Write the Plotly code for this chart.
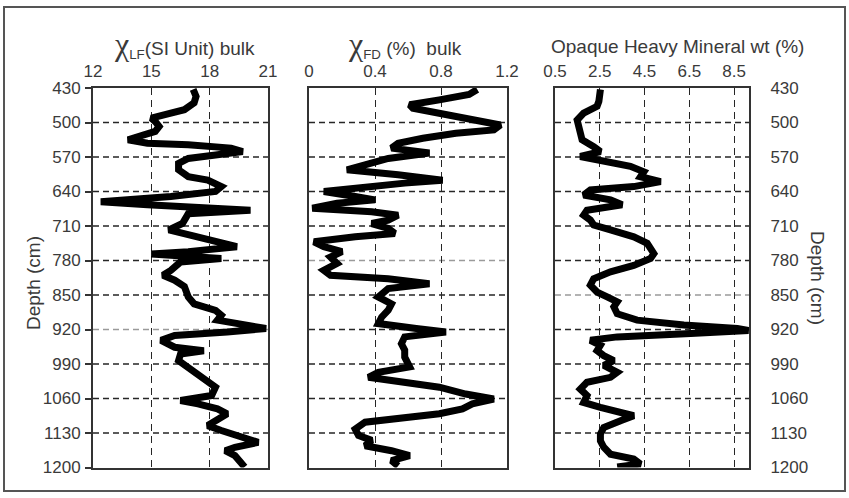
import plotly.graph_objects as go

# Depth profiles (cm) for the three downcore logs
depth_lf = [433, 447, 460, 474, 484, 491, 498, 508, 518, 528, 535, 542, 545, 552, 559, 566, 573, 583, 596, 610,
            617, 630, 640, 650, 661, 667, 671, 678, 685, 695, 705, 718, 728, 739, 752, 762, 767, 776, 783, 800,
            810, 820, 833, 854, 868, 881, 891, 901, 911, 918, 925, 932, 942, 956, 963, 970, 983, 997, 1010, 1024,
            1037, 1054, 1064, 1071, 1081, 1091, 1105, 1115, 1125, 1139, 1149, 1159, 1166, 1176, 1190, 1199]
chi_lf = [17.15, 17.3, 17.2, 16.7, 15.7, 15.0, 15.2, 15.4, 15.2, 14.3, 13.8, 14.8, 16.9, 19.1, 19.7, 18.3, 16.9, 16.4, 16.4, 16.9,
          17.9, 18.6, 18.3, 16.0, 12.4, 14.8, 16.9, 20.1, 16.9, 16.7, 16.6, 15.9, 16.9, 18.1, 19.4, 16.9, 15.0, 18.6, 16.5, 16.0,
          15.6, 16.2, 16.7, 16.9, 17.2, 18.3, 18.6, 18.4, 20.0, 20.9, 18.9, 16.2, 15.5, 16.2, 17.7, 16.5, 16.4, 16.9, 17.4, 17.9,
          18.3, 18.1, 16.5, 17.4, 18.4, 18.9, 18.3, 17.9, 18.6, 19.8, 20.5, 19.3, 18.8, 19.3, 19.6, 19.8]

depth_fd = [433, 443, 454, 464, 471, 481, 495, 505, 515, 522, 532, 542, 552, 562, 573, 586, 596, 606, 617, 623,
            634, 640, 650, 657, 664, 674, 681, 688, 698, 705, 715, 725, 732, 742, 752, 762, 773, 786, 800, 810,
            817, 827, 837, 854, 868, 881, 895, 908, 918, 925, 935, 949, 962, 976, 996, 1007, 1017, 1027, 1037, 1051,
            1061, 1071, 1081, 1091, 1098, 1108, 1122, 1135, 1145, 1156, 1166, 1176, 1186, 1197]
chi_fd = [1.02, 0.97, 0.79, 0.61, 0.63, 0.79, 1.04, 1.16, 1.12, 0.89, 0.69, 0.54, 0.50, 0.73, 0.48, 0.32, 0.23, 0.54, 0.81, 0.58,
          0.28, 0.09, 0.28, 0.40, 0.17, 0.02, 0.38, 0.54, 0.48, 0.38, 0.48, 0.52, 0.28, 0.03, 0.09, 0.20, 0.13, 0.17, 0.09, 0.13,
          0.48, 0.73, 0.48, 0.42, 0.50, 0.48, 0.44, 0.42, 0.65, 0.83, 0.58, 0.56, 0.58, 0.58, 0.61, 0.42, 0.36, 0.58, 0.79, 0.95,
          1.12, 0.99, 0.93, 0.79, 0.58, 0.34, 0.28, 0.30, 0.38, 0.34, 0.50, 0.61, 0.50, 0.54]

depth_ohm = [433, 447, 457, 467, 481, 495, 508, 522, 535, 549, 559, 569, 579, 589, 600, 610, 620, 630, 637, 647,
             657, 667, 678, 688, 698, 708, 718, 732, 745, 756, 766, 776, 790, 803, 817, 830, 844, 854, 864, 874,
             888, 901, 911, 918, 922, 928, 935, 942, 952, 963, 973, 983, 993, 1007, 1017, 1027, 1041, 1054, 1068, 1078,
             1088, 1095, 1105, 1119, 1132, 1146, 1159, 1173, 1183, 1193, 1199]
ohm_wt = [2.53, 2.53, 2.46, 2.38, 1.78, 1.49, 1.56, 1.63, 1.71, 2.23, 2.53, 1.63, 2.83, 3.87, 4.47, 4.32, 5.22, 4.02, 2.08, 1.78,
          2.98, 3.50, 1.93, 1.78, 2.08, 2.23, 2.98, 4.02, 4.62, 4.77, 4.92, 4.77, 4.02, 2.98, 2.23, 2.08, 2.38, 2.83, 3.28, 3.13,
          3.28, 4.17, 6.26, 8.65, 9.15, 6.56, 3.28, 2.08, 2.53, 2.38, 2.68, 3.13, 2.68, 3.28, 2.98, 1.93, 1.63, 1.93, 1.78, 2.53,
          3.28, 4.02, 3.43, 2.68, 2.53, 2.53, 2.68, 2.98, 4.02, 4.32, 3.28]

depth_ticks = [430, 500, 570, 640, 710, 780, 850, 920, 990, 1060, 1130, 1200]
lf_ticks = [12, 15, 18, 21]
fd_ticks = [0, 0.4, 0.8, 1.2]
ohm_ticks = [0.5, 2.5, 4.5, 6.5, 8.5]
# depth grid lines printed lighter in each panel
faint_depths = {"": [920], "2": [780], "3": [850]}

FONT = "Liberation Sans, Arial, sans-serif"
TXT = "#3a3a3a"
GRID = "#262626"
FAINT = "#9a9a9a"

fig = go.Figure()
for xs, ys, n in ((chi_lf, depth_lf, ""), (chi_fd, depth_fd, "2"), (ohm_wt, depth_ohm, "3")):
    fig.add_trace(go.Scatter(x=xs, y=ys, mode="lines", line=dict(color="black", width=7),
                             xaxis="x" + n, yaxis="y" + n, showlegend=False))
    # horizontal depth grid, drawn beneath the curve
    for d in depth_ticks[1:-1]:
        fig.add_shape(type="line", xref=f"x{n} domain", yref=f"y{n}", x0=0, x1=1, y0=d, y1=d,
                      layer="below",
                      line=dict(color=FAINT if d in faint_depths[n] else GRID, width=1.6, dash="6px,4px"))

W, H = 849, 498
px = lambda v: v / W
py = lambda v: 1 - v / H
ydom = [py(467.5), py(88)]


def xax(dom, rng, ticks):
    return dict(domain=dom, range=rng, side="top", tickvals=ticks,
                ticktext=[str(t) for t in ticks], automargin=False,
                showline=True, mirror=True, linecolor="#333", linewidth=2,
                showgrid=True, gridcolor=GRID, gridwidth=1.4, griddash="7px,5px",
                ticks="", ticklabelstandoff=2, zeroline=False,
                tickfont=dict(family=FONT, size=17, color=TXT), fixedrange=True)


def yax(anchor, side, showlabels, ticks_out):
    return dict(domain=ydom, range=[1200, 430], anchor=anchor, side=side, tickvals=depth_ticks,
                showticklabels=showlabels, showline=True, mirror=True, linecolor="#333", linewidth=2,
                showgrid=False, automargin=False,
                ticks="outside" if ticks_out else "", ticklen=6, tickcolor="#333", tickwidth=1.5,
                ticklabelstandoff=1 if ticks_out else 16, zeroline=False,
                tickfont=dict(family=FONT, size=17, color=TXT), fixedrange=True)


fig.update_layout(
    width=W, height=H, margin=dict(l=0, r=0, t=0, b=0, autoexpand=False),
    paper_bgcolor="white", plot_bgcolor="white",
    xaxis=xax([px(93), px(268)], [12, 21], lf_ticks),
    xaxis2=xax([px(309), px(507)], [0, 1.2], fd_ticks),
    xaxis3=xax([px(555), px(749)], [0.5, 9.17], ohm_ticks),
    yaxis=yax("x", "left", True, True),
    yaxis2=yax("x2", "left", False, False),
    yaxis3=yax("x3", "right", True, False),
)

title_font = dict(family=FONT, size=19, color=TXT)
chi = "<span style=\"font-family:'Liberation Serif',serif;font-size:32px\">χ</span>"


def label(x, y, text, angle=0):
    fig.add_annotation(x=px(x), y=py(y), xref="paper", yref="paper", showarrow=False,
                       xanchor="center", yanchor="middle", text=text, textangle=angle,
                       font=title_font)


label(184, 44, chi + "<sub>LF</sub>(SI Unit) bulk")
label(405, 44, chi + "<sub>FD</sub> (%)  bulk")
label(677, 47, "Opaque Heavy Mineral wt (%)")
label(33, 283, "Depth (cm)", -90)
label(818, 278, "Depth (cm)", 90)

# outer frame
fig.add_shape(type="rect", xref="paper", yref="paper", x0=px(4), x1=px(845), y0=py(491), y1=py(7),
              line=dict(color="#555", width=2))

fig.write_html("out.html")
